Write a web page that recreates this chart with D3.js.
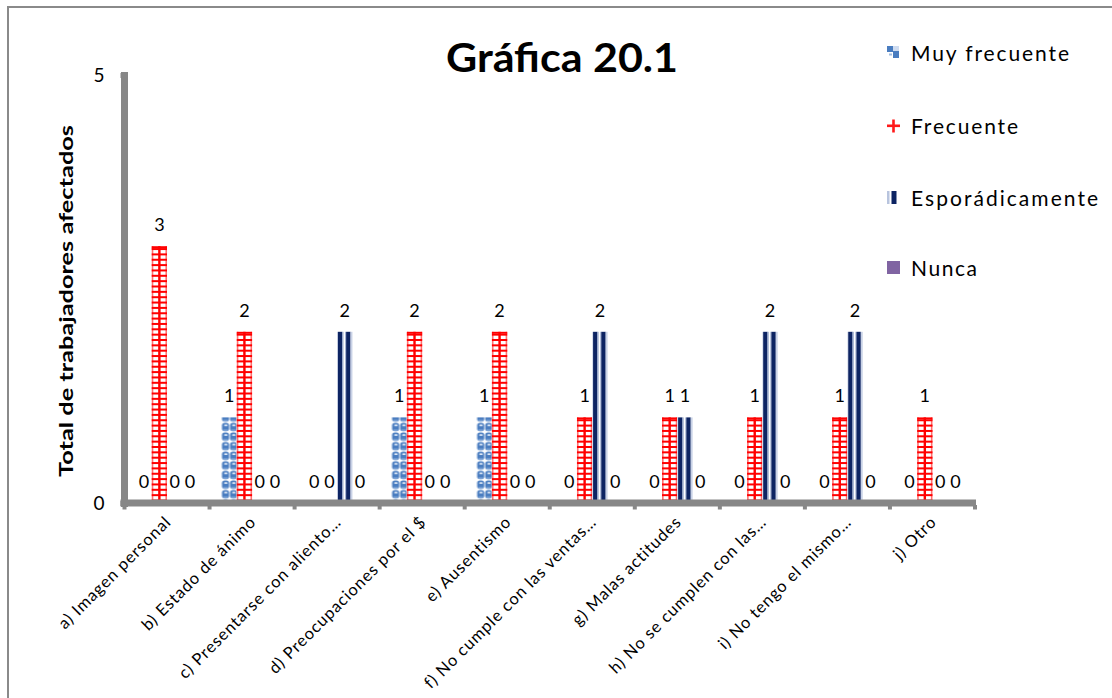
<!DOCTYPE html>
<html lang="es">
<head>
<meta charset="utf-8">
<title>Gráfica 20.1</title>
<script src="https://cdn.jsdelivr.net/npm/d3@7"></script>
<style>
  html, body { margin: 0; padding: 0; background: #fff; }
  svg { display: block; font-family: Lato, "Open Sans", sans-serif; }
</style>
</head>
<body>
<svg id="chart" width="1112" height="698"></svg>
<script>
// Categories on the x axis
const categories = [
  "a) Imagen personal",
  "b) Estado de ánimo",
  "c) Presentarse con aliento…",
  "d) Preocupaciones por el $",
  "e) Ausentismo",
  "f) No cumple con las ventas…",
  "g) Malas actitudes",
  "h) No se cumplen con las…",
  "i) No tengo el mismo…",
  "j) Otro"
];

// Series names (legend order)
const seriesNames = ["Muy frecuente", "Frecuente", "Esporádicamente", "Nunca"];

// Series values, one per category
const muyFrecuente    = [0, 1, 0, 1, 1, 0, 0, 0, 0, 0];
const frecuente       = [3, 2, 0, 2, 2, 1, 1, 1, 1, 1];
const esporadicamente = [0, 0, 2, 0, 0, 2, 1, 2, 2, 0];
const nunca           = [0, 0, 0, 0, 0, 0, 0, 0, 0, 0];

// Y axis tick labels
const yTicks = [0, 5];

const chartTitle = "Gráfica 20.1";
const yTitle = "Total de trabajadores afectados";

const seriesValues = [muyFrecuente, frecuente, esporadicamente, nunca];

const svg = d3.select("#chart");
const defs = svg.append("defs");

// ---- fills ----
// blue "sphere" fill: rounded blue cells with white gaps and highlights
const sp = defs.append("pattern")
  .attr("id", "muyPat").attr("patternUnits", "userSpaceOnUse")
  .attr("width", 8).attr("height", 9.6);
sp.append("rect").attr("width", 8).attr("height", 9.6).attr("fill", "#ffffff");
sp.append("rect").attr("x", 0.6).attr("y", 0.4).attr("width", 7).attr("height", 8.4)
  .attr("rx", 2.6).attr("fill", "#4a7dc0");
sp.append("ellipse").attr("cx", 4.4).attr("cy", 3.0).attr("rx", 1.9).attr("ry", 0.8).attr("fill", "#f2f6fc");
sp.append("rect").attr("x", 1.6).attr("y", 7.2).attr("width", 5).attr("height", 1.2).attr("fill", "#8eb0dc");

const seriesFill = {
  "Muy frecuente": "url(#muyPat)",
  "Frecuente": "#ffffff",
  "Esporádicamente": "#ffffff",
  "Nunca": "#8064a2"
};

// ---- scales ----
const x = d3.scaleBand()
  .domain(categories)
  .range([124.5, 975])
  .paddingInner(0.28)
  .paddingOuter(0.14);

const xs = d3.scaleBand()
  .domain(seriesNames)
  .range([0, x.bandwidth()]);

const y = d3.scaleLinear()
  .domain([0, 5])
  .range([503, 75]);

// ---- outer frame ----
svg.append("path")
  .attr("d", "M8,698V7H1112")
  .attr("fill", "none")
  .attr("stroke", "#8a8a8a")
  .attr("stroke-width", 2);

// ---- title ----
svg.append("text")
  .attr("x", 446).attr("y", 72)
  .attr("font-size", 40).attr("font-weight", "bold")
  .attr("textLength", 232).attr("lengthAdjust", "spacingAndGlyphs")
  .attr("fill", "#000")
  .text(chartTitle);

// ---- y axis title ----
svg.append("text")
  .attr("transform", "translate(73,301) rotate(-90)")
  .attr("text-anchor", "middle")
  .attr("font-size", 19).attr("font-weight", "bold")
  .attr("textLength", 352).attr("lengthAdjust", "spacingAndGlyphs")
  .attr("fill", "#000")
  .text(yTitle);

// ---- bars ----
const rows = categories.map((c, i) => ({
  cat: c,
  vals: seriesNames.map((s, j) => ({ cat: c, series: s, value: seriesValues[j][i] }))
}));

const groups = svg.append("g").attr("class", "bars")
  .selectAll("g").data(rows).join("g")
  .attr("transform", d => `translate(${x(d.cat)},0)`);

const bars = groups.selectAll("g.bar").data(d => d.vals).join("g")
  .attr("class", "bar")
  .attr("transform", d => `translate(${xs(d.series)},0)`);

const bw = xs.bandwidth();

bars.filter(d => d.value > 0).each(function(d) {
  const g = d3.select(this);
  const top = y(d.value), base = y(0);
  g.append("rect")
    .attr("x", 0).attr("y", top)
    .attr("width", bw).attr("height", base - top)
    .attr("fill", seriesFill[d.series]);

  if (d.series === "Frecuente") {
    // red grid
    g.append("rect").attr("x", 0).attr("y", top).attr("width", 1.6).attr("height", base - top).attr("fill", "#ff7070");
    g.append("rect").attr("x", bw - 1.6).attr("y", top).attr("width", 1.6).attr("height", base - top).attr("fill", "#ff7070");
    g.append("rect").attr("x", bw / 2 - 1.2).attr("y", top).attr("width", 2.4).attr("height", base - top).attr("fill", "#ff0000");
    const step = 5.35;
    const ys = d3.range(base - 2.5, top - 0.1, -step);
    g.selectAll("line.h").data(ys).join("line")
      .attr("class", "h")
      .attr("x1", 0).attr("x2", bw)
      .attr("y1", v => v).attr("y2", v => v)
      .attr("stroke", "#ff0000").attr("stroke-width", 2);
    g.append("line").attr("x1", 0).attr("x2", bw).attr("y1", top + 1).attr("y2", top + 1)
      .attr("stroke", "#ff0000").attr("stroke-width", 2);
  } else if (d.series === "Esporádicamente") {
    // navy vertical stripes
    const stripes = [
      { x: 0, w: 0.8, c: "#c9d2e6" },
      { x: 0.8, w: 4.3, c: "#0d2463" },
      { x: 5.1, w: 1.2, c: "#8fa2c8" },
      { x: 8.0, w: 1.0, c: "#9aabcf" },
      { x: 9.0, w: 4.4, c: "#0d2463" },
      { x: 13.4, w: bw - 13.4, c: "#c9d2e6" }
    ];
    g.selectAll("rect.s").data(stripes).join("rect")
      .attr("class", "s")
      .attr("x", s => s.x).attr("y", top)
      .attr("width", s => s.w).attr("height", base - top)
      .attr("fill", s => s.c);
  }
});

// value labels
bars.append("text")
  .attr("x", bw / 2)
  .attr("y", d => y(d.value) - 15)
  .attr("text-anchor", "middle")
  .attr("font-size", 18)
  .attr("fill", "#000")
  .text(d => d.value);

// ---- axes ----
const axisColor = "#878787";

const yAxis = svg.append("g")
  .attr("transform", "translate(124.5,0)")
  .call(d3.axisLeft(y).tickValues(yTicks).tickFormat(d3.format("d"))
    .tickSize(4).tickPadding(16).tickSizeOuter(0));
yAxis.select(".domain").attr("stroke", axisColor).attr("stroke-width", 7)
  .attr("d", `M0,${y(5) - 3}V${y(0) + 4}`);
yAxis.selectAll(".tick line").attr("stroke", axisColor).attr("stroke-width", 5);
yAxis.selectAll(".tick text").attr("font-size", 19).attr("font-family", "Lato, sans-serif").attr("fill", "#000");

const xAxis = svg.append("g")
  .attr("transform", `translate(0,${y(0)})`)
  .call(d3.axisBottom(x).tickSize(0).tickSizeOuter(0).tickFormat(() => ""));
xAxis.select(".domain").attr("stroke", axisColor).attr("stroke-width", 7)
  .attr("d", `M${x.range()[0] - 4},0H${x.range()[1] + 1}`);

// category boundary ticks
const boundaries = categories.map(c => x(c) - x.step() * x.paddingOuter()).concat([x.range()[1]]);
xAxis.selectAll("line.bound").data(boundaries).join("line")
  .attr("class", "bound")
  .attr("x1", b => b).attr("x2", b => b)
  .attr("y1", 2).attr("y2", 6.5)
  .attr("stroke", axisColor).attr("stroke-width", 4);

// rotated category labels
svg.append("g").selectAll("text").data(categories).join("text")
  .attr("transform", c => `translate(${x(c) + x.bandwidth() / 2 + 5},523) rotate(-45)`)
  .attr("text-anchor", "end")
  .attr("font-size", 16.5)
  .attr("letter-spacing", 0.9)
  .attr("fill", "#000")
  .text(c => c);

// ---- legend ----
const legendRows = [61, 134, 206, 276];
const legend = svg.append("g").selectAll("g").data(seriesNames).join("g")
  .attr("transform", (s, i) => `translate(886,${legendRows[i]})`);

legend.each(function(s) {
  const g = d3.select(this);
  if (s === "Muy frecuente") {
    g.append("rect").attr("x", 1).attr("y", -15).attr("width", 12).attr("height", 12).attr("fill", "#4a7dc0");
    g.append("rect").attr("x", 1).attr("y", -9).attr("width", 6).attr("height", 6).attr("fill", "#ffffff");
    g.append("rect").attr("x", 7).attr("y", -15).attr("width", 6).attr("height", 5).attr("fill", "#cfdcf0");
    g.append("rect").attr("x", 3).attr("y", -7.5).attr("width", 3).attr("height", 2).attr("fill", "#9fbbe0");
  } else if (s === "Frecuente") {
    g.append("rect").attr("x", 1).attr("y", -9.5).attr("width", 13).attr("height", 2.6).attr("fill", "#ff1a1a");
    g.append("rect").attr("x", 6.2).attr("y", -14.5).attr("width", 2.6).attr("height", 13).attr("fill", "#ff1a1a");
  } else if (s === "Esporádicamente") {
    g.append("rect").attr("x", 1).attr("y", -15).attr("width", 2.5).attr("height", 13).attr("fill", "#b8c4de");
    g.append("rect").attr("x", 5.5).attr("y", -15).attr("width", 5).attr("height", 13).attr("fill", "#0d2463");
  } else {
    g.append("rect").attr("x", 1).attr("y", -15).attr("width", 13).attr("height", 13).attr("fill", seriesFill[s]);
  }
});

const legendWidths = { "Muy frecuente": 158, "Frecuente": 107, "Esporádicamente": 187, "Nunca": 66 };
legend.append("text")
  .attr("x", 25).attr("y", 0)
  .attr("font-size", 21)
  .attr("textLength", s => legendWidths[s]).attr("lengthAdjust", "spacing")
  .attr("fill", "#000")
  .text(s => s);
</script>
</body>
</html>
